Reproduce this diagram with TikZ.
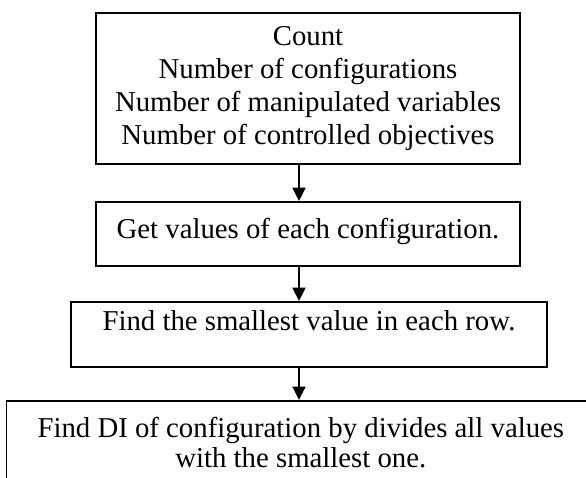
\documentclass[tikz,border=0pt]{standalone}
\usepackage{fontspec}
\setmainfont{Liberation Serif}
\usetikzlibrary{arrows.meta}

\begin{document}
\begin{tikzpicture}[
        stepbox/.style={draw, line width=0.8pt, align=center, inner sep=0pt},
        flow/.style={-{Triangle[length=5.6pt, width=5.4pt]}, line width=0.8pt},
        font=\fontsize{12}{13.8}\selectfont]
            \useasboundingbox (0, 0) rectangle (8.59, 7.006);
            \clip (0, 0) rectangle (8.59, 7.006);
            \node[stepbox, minimum width=6.215cm, minimum height=2.213cm] (count) at (4.515, 5.709) {Count\\Number of configurations\\Number of manipulated variables\\Number of controlled objectives};
            \node[stepbox, minimum width=6.215cm, text height=0.54cm, text depth=0.398cm] (values) at (4.515, 3.576) {Get values of each configuration.};
            \node[stepbox, minimum width=6.977cm, text height=0.425cm, text depth=0.528cm] (smallest) at (4.529, 2.103) {Find the smallest value in each row.};
            \node[stepbox, minimum width=8.63cm, inner ysep=0.24cm, anchor=north] (di) at (4.41, 1.143) {Find DI of configuration by divides all values\\[-1.3pt]with the smallest one.};
            \coordinate (ax) at (4.383, 0);
            \draw[flow] (count.south -| ax)--(values.north -| ax);
            \draw[flow] (values.south -| ax)--(smallest.north -| ax);
            \draw[flow] (smallest.south -| ax)--(di.north -| ax);
        \end{tikzpicture}
\end{document}
